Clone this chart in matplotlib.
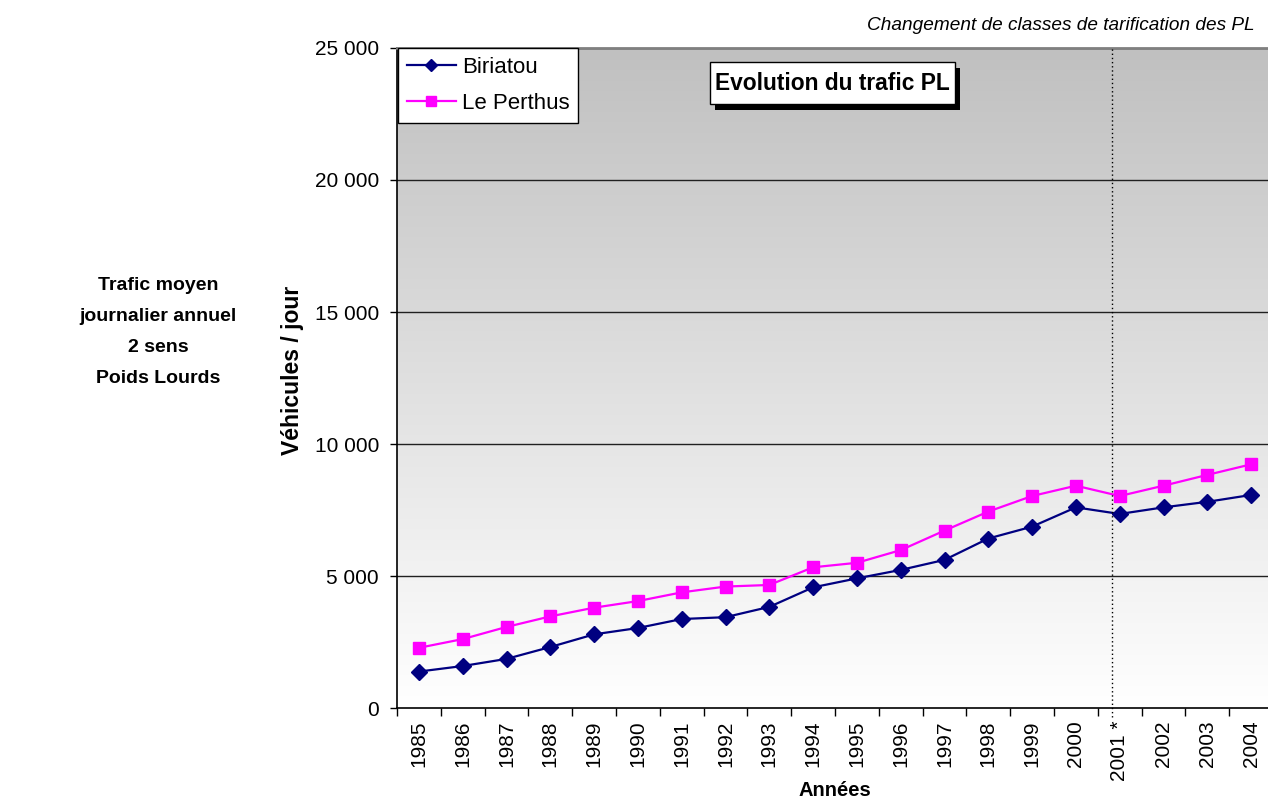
import numpy as np
import matplotlib
matplotlib.use("Agg")
import matplotlib.pyplot as plt
from matplotlib.ticker import FuncFormatter, FixedLocator
from matplotlib.patches import Rectangle

plt.rcParams['font.family'] = ['Liberation Sans', 'DejaVu Sans']

years = ["1985", "1986", "1987", "1988", "1989", "1990", "1991", "1992", "1993", "1994",
         "1995", "1996", "1997", "1998", "1999", "2000", "2001 *", "2002", "2003", "2004"]
biriatou = [1380, 1590, 1860, 2310, 2790, 3030, 3370, 3440, 3830, 4570,
            4910, 5230, 5610, 6420, 6870, 7600, 7350, 7600, 7810, 8070]
le_perthus = [2280, 2610, 3070, 3470, 3800, 4050, 4380, 4600, 4660, 5330,
              5500, 5980, 6720, 7440, 8030, 8420, 8030, 8420, 8830, 9230]
y_ticks = [0, 5000, 10000, 15000, 20000, 25000]

W, H = 1268, 801
fig = plt.figure(figsize=(W / 100, H / 100), dpi=100)
ax = fig.add_axes([397 / W, 1 - 708 / H, (1273 - 397) / W, (708 - 48) / H])

x = np.arange(len(years))
ax.set_xlim(-0.5, len(years) - 0.5)
ax.set_ylim(0, 25000)

# vertical gray-to-white gradient behind the plot
grad = np.linspace(1.0, 0.0, 256).reshape(-1, 1)
top_c = np.array([192, 192, 192]) / 255
bot_c = np.array([255, 255, 255]) / 255
img = bot_c[None, None, :] * (1 - grad[..., None]) + top_c[None, None, :] * grad[..., None]
ax.imshow(img, extent=[-0.5, len(years) - 0.5, 0, 25000], aspect='auto', zorder=0,
          interpolation='bilinear')

for v in y_ticks[1:]:
    ax.axhline(v, color='#202020', lw=1.0, zorder=1)

ax.plot(x, biriatou, color='#000080', lw=1.6, marker='D', markersize=8.5,
        markerfacecolor='#000080', markeredgecolor='#000080', label='Biriatou', zorder=4)
ax.plot(x, le_perthus, color='#FF00FF', lw=1.6, marker='s', markersize=9,
        markerfacecolor='#FF00FF', markeredgecolor='#FF00FF', label='Le Perthus', zorder=3)

# tariff class change marker
ax.plot([15.82, 15.82], [-0.014, 1.0], transform=ax.get_xaxis_transform(),
        color='black', lw=1.0, ls=(0, (1, 2)), clip_on=False, zorder=5)

ax.spines['right'].set_visible(False)
ax.spines['top'].set_color('#808080')
ax.spines['top'].set_linewidth(2)
ax.spines['left'].set_color('black')
ax.spines['bottom'].set_color('black')
ax.spines['left'].set_linewidth(1.2)
ax.spines['bottom'].set_linewidth(1.2)

ax.set_xticks(x)
ax.set_xticklabels(years, rotation=90, fontsize=15)
ax.xaxis.set_minor_locator(FixedLocator(np.arange(-0.5, len(years), 1.0)))
ax.tick_params(axis='x', which='major', length=0, pad=9)
ax.tick_params(axis='x', which='minor', length=6, width=1, direction='out')

ax.set_yticks(y_ticks)
ax.yaxis.set_major_formatter(FuncFormatter(lambda v, p: f"{int(v):,}".replace(",", " ")))
ax.tick_params(axis='y', length=5, width=1, direction='out', labelsize=15, pad=8)

ax.set_xlabel("Années", fontsize=14.5, fontweight='bold', labelpad=0)
ax.set_ylabel("Véhicules / jour", fontsize=16.5, fontweight='bold')
ax.yaxis.set_label_coords(-0.106, 0.512)

leg = ax.legend(loc='upper left', bbox_to_anchor=(0.001, 1.0), fontsize=16, frameon=True,
                fancybox=False, edgecolor='black', framealpha=1, handlelength=2.2,
                markerscale=0.75, borderpad=0.4, labelspacing=0.68, handletextpad=0.27,
                borderaxespad=0.0)
leg.get_frame().set_linewidth(1.0)

# title box with a drop shadow
fig.patches.append(Rectangle((715 / W, 1 - 110 / H), 245 / W, 42 / H,
                             transform=fig.transFigure, facecolor='black',
                             edgecolor='none', zorder=8))
fig.patches.append(Rectangle((710 / W, 1 - 104 / H), 245 / W, 42 / H,
                             transform=fig.transFigure, facecolor='white',
                             edgecolor='black', lw=1.0, zorder=9))
fig.text(832.5 / W, 1 - 83 / H, "Evolution du trafic PL", ha='center', va='center',
         fontsize=16.4, fontweight='bold', zorder=10)

fig.text(1255 / W, 1 - 25 / H, "Changement de classes de tarification des PL",
         ha='right', va='center', fontsize=13.7, style='italic')

fig.text(158 / W, 1 - 332 / H, "Trafic moyen\njournalier annuel\n2 sens\nPoids Lourds",
         ha='center', va='center', fontsize=14, fontweight='bold', linespacing=2.1)

fig.savefig("out.png", dpi=100)
